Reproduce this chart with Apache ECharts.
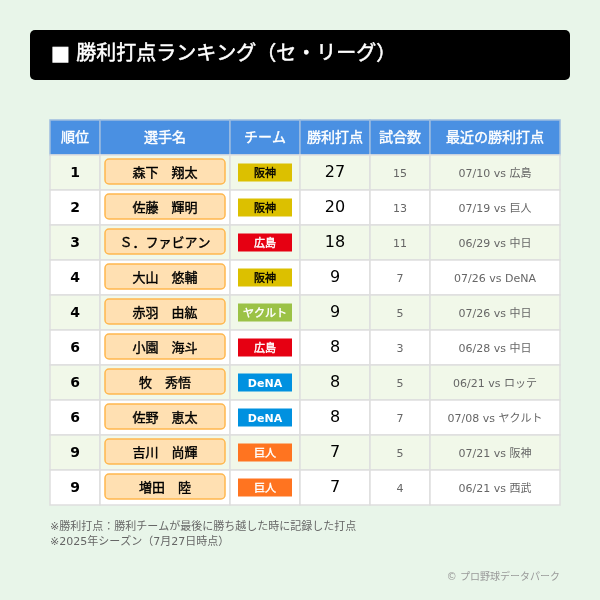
<!DOCTYPE html>
<html>
<head>
<meta charset="utf-8">
<title>勝利打点ランキング</title>
<style>
  html, body { margin: 0; padding: 0; background: #e8f5e9; }
  #chart { width: 600px; height: 600px; }
</style>
<script src="https://cdn.jsdelivr.net/npm/echarts@6/dist/echarts.min.js"></script>
</head>
<body>
<div id="chart"></div>
<script>
const headers = ["順位", "選手名", "チーム", "勝利打点", "試合数", "最近の勝利打点"];
const ranks = [1, 2, 3, 4, 4, 6, 6, 6, 9, 9];
const players = ["森下　翔太", "佐藤　輝明", "Ｓ．ファビアン", "大山　悠輔", "赤羽　由紘", "小園　海斗", "牧　秀悟", "佐野　恵太", "吉川　尚輝", "増田　陸"];
const teams = ["阪神", "阪神", "広島", "阪神", "ヤクルト", "広島", "DeNA", "DeNA", "巨人", "巨人"];
const rbis = [27, 20, 18, 9, 9, 8, 8, 8, 7, 7];
const games = [15, 13, 11, 7, 5, 3, 5, 7, 5, 4];
const recent = ["07/10 vs 広島", "07/19 vs 巨人", "06/29 vs 中日", "07/26 vs DeNA", "07/26 vs 中日", "06/28 vs 中日", "06/21 vs ロッテ", "07/08 vs ヤクルト", "07/21 vs 阪神", "06/21 vs 西武"];

const FONT = '"DejaVu Sans", "Noto Sans CJK JP", sans-serif';
const colEdges = [0, 50, 180, 250, 320, 380, 510];
const teamColors = {
  "阪神": ["#dcc000", "#000"],
  "広島": ["#e60012", "#fff"],
  "ヤクルト": ["#9bc246", "#fff"],
  "DeNA": ["#0091e0", "#fff"],
  "巨人": ["#ff7420", "#fff"],
};

// row 0 is the header, the rest are players
const rowLabels = ["header"].concat(players);
const cells = [];
headers.forEach((h, c) => cells.push([c, 0, h]));
players.forEach((p, i) => {
  const row = i + 1;
  cells.push([0, row, ranks[i]]);
  cells.push([1, row, p]);
  cells.push([2, row, teams[i]]);
  cells.push([3, row, rbis[i]]);
  cells.push([4, row, games[i]]);
  cells.push([5, row, recent[i]]);
});

// fake: true means regular glyphs thickened with a thin stroke, the CJK bold cut is too heavy
const colStyle = [
  { fontSize: 14, fontWeight: "bold", fill: "#000", dy: 1 },
  { fontSize: 13, fake: true, fill: "#000", dy: 1 },
  { fontSize: 11, fake: true, fill: "#000", dy: 2 },
  { fontSize: 16, fontWeight: "normal", fill: "#000", dy: 0 },
  { fontSize: 11, fontWeight: "normal", fill: "#666", dy: 2 },
  { fontSize: 11, fontWeight: "normal", fill: "#666", dy: 2 },
];

function renderCell(params, api) {
  const c = api.value(0);
  const row = api.value(1);
  const text = cells[params.dataIndex][2];
  const rowH = api.size([0, 1])[1];
  const cy = api.coord([0, row])[1];
  const x0 = api.coord([colEdges[c], row])[0];
  const x1 = api.coord([colEdges[c + 1], row])[0];
  const y0 = cy - rowH / 2;
  const w = x1 - x0;
  const cx = x0 + w / 2;
  const isHeader = row === 0;
  const children = [];

  let fill = row % 2 === 1 ? "#f1f8e9" : "#ffffff";
  if (isHeader) fill = "#4a90e2";
  children.push({
    type: "rect",
    shape: { x: x0, y: y0, width: w, height: rowH },
    style: { fill: fill, stroke: isHeader ? "#9dbce0" : "#dedede", lineWidth: 1.5 },
  });

  if (c === 1 && !isHeader) {
    children.push({
      type: "rect",
      shape: { x: x0 + 5, y: y0 + 4, width: w - 10, height: rowH - 10, r: 4 },
      style: { fill: "#ffe0b2", stroke: "#ffb74d", lineWidth: 1.5 },
    });
  }
  if (c === 2 && !isHeader) {
    children.push({
      type: "rect",
      shape: { x: x0 + 8, y: y0 + 8.5, width: w - 16, height: rowH - 17 },
      style: { fill: teamColors[text][0] },
    });
  }

  let st = colStyle[c];
  if (isHeader) st = { fontSize: 14, fake: true, fill: "#fff", dy: 1 };
  if (c === 2 && !isHeader) st = Object.assign({}, st, { fill: teamColors[text][1] });
  if (text === "DeNA" && !isHeader) st = Object.assign({}, st, { fake: false, fontWeight: "bold" });
  children.push({
    type: "text",
    style: {
      text: String(text),
      x: cx,
      y: cy + st.dy,
      align: "center",
      verticalAlign: "middle",
      fontFamily: FONT,
      fontSize: st.fontSize,
      fontWeight: st.fake ? "normal" : st.fontWeight,
      fill: st.fill,
      stroke: st.fake ? st.fill : null,
      lineWidth: st.fake ? 0.4 : 0,
    },
  });
  return { type: "group", children: children };
}

const chart = echarts.init(document.getElementById("chart"), null, { renderer: "canvas" });
chart.setOption({
  animation: false,
  backgroundColor: "#e8f5e9",
  textStyle: { fontFamily: FONT },
  grid: { left: 50, top: 120, width: 510, height: 385 },
  xAxis: { type: "value", min: 0, max: 510, show: false },
  yAxis: { type: "category", data: rowLabels, inverse: true, show: false },
  graphic: [
    {
      type: "rect",
      shape: { x: 30, y: 30, width: 540, height: 50, r: 5 },
      style: { fill: "#000" },
    },
    {
      type: "text",
      style: {
        text: "■ 勝利打点ランキング（セ・リーグ）",
        x: 51, y: 55, verticalAlign: "middle",
        fontFamily: FONT, fontSize: 20, fontWeight: "normal", fill: "#fff",
        stroke: "#fff", lineWidth: 0.5,
      },
    },
    {
      type: "text",
      style: {
        text: "※勝利打点：勝利チームが最後に勝ち越した時に記録した打点",
        x: 50, y: 527, verticalAlign: "middle",
        fontFamily: FONT, fontSize: 11, fill: "#666",
      },
    },
    {
      type: "text",
      style: {
        text: "※2025年シーズン（7月27日時点）",
        x: 50, y: 542, verticalAlign: "middle",
        fontFamily: FONT, fontSize: 11, fill: "#666",
      },
    },
    {
      type: "text",
      style: {
        text: "© プロ野球データパーク",
        x: 560, y: 577, align: "right", verticalAlign: "middle",
        fontFamily: FONT, fontSize: 10, fill: "#999",
      },
    },
  ],
  series: [
    {
      type: "custom",
      coordinateSystem: "cartesian2d",
      renderItem: renderCell,
      encode: { x: 0, y: 1 },
      clip: false,
      data: cells.map((d) => [d[0], d[1]]),
    },
  ],
});
</script>
</body>
</html>
